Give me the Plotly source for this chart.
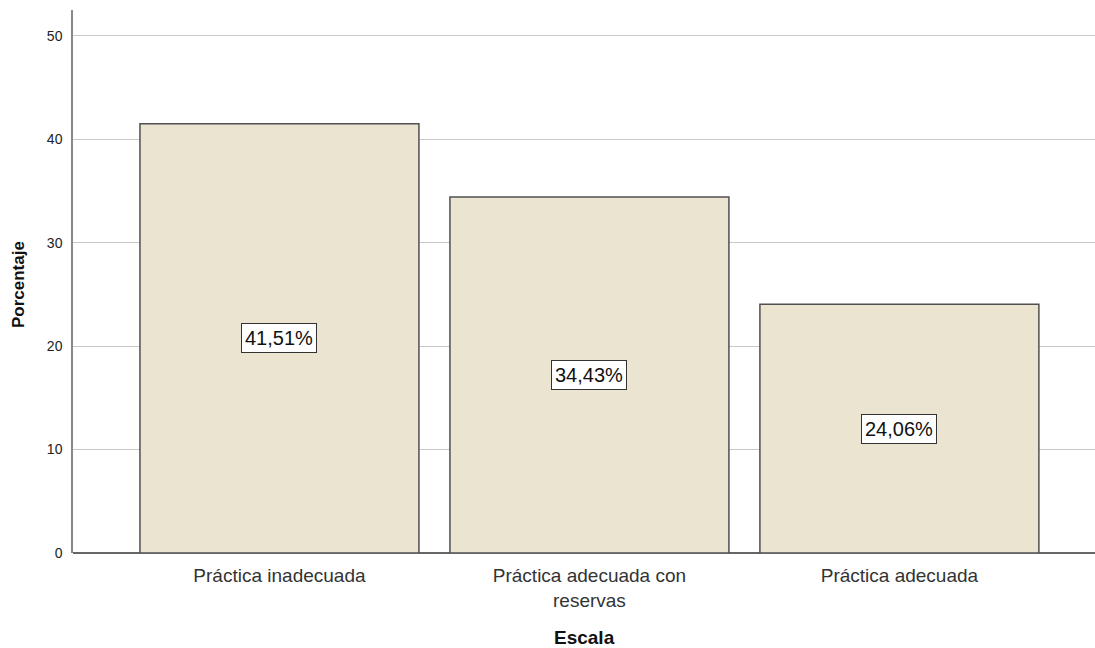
import plotly.graph_objects as go

categories = ["Práctica inadecuada", "Práctica adecuada con<br>reservas", "Práctica adecuada"]
values = [41.51, 34.43, 24.06]
labels = ["41,51%", "34,43%", "24,06%"]
y_ticks = [0, 10, 20, 30, 40, 50]

x_pos = list(range(len(categories)))
FONT = "Liberation Sans, Arial"

fig = go.Figure()
fig.add_trace(go.Bar(
    x=x_pos, y=values, width=0.9,
    marker=dict(color="#EAE4D0", line=dict(color="#505050", width=1.5)),
    hoverinfo="skip",
))

for xi, v, t in zip(x_pos, values, labels):
    fig.add_annotation(
        x=xi, y=v / 2, text=t, showarrow=False,
        font=dict(family=FONT, size=20, color="#111"),
        bgcolor="white", bordercolor="#333", borderwidth=1, borderpad=3,
    )

fig.add_annotation(
    x=0.5, xref="paper", y=-0.155, yref="paper", yanchor="middle",
    text="<b>Escala</b>", showarrow=False,
    font=dict(family=FONT, size=19, color="#111"),
)
fig.add_annotation(
    x=-0.054, xref="paper", y=0.495, yref="paper", xanchor="center",
    text="<b>Porcentaje</b>", textangle=-90, showarrow=False,
    font=dict(family=FONT, size=17, color="#111"),
)

fig.update_layout(
    width=1095, height=648,
    margin=dict(l=73, r=0, t=10, b=95),
    paper_bgcolor="white", plot_bgcolor="white",
    showlegend=False,
    xaxis=dict(
        range=[-0.666, 2.631],
        tickvals=x_pos, ticktext=categories,
        tickfont=dict(family=FONT, size=19, color="#333"),
        showgrid=False, zeroline=False,
        showline=False, ticks="",
        ticklabelstandoff=9,
    ),
    yaxis=dict(
        range=[0, 52.5],
        tickvals=y_ticks,
        tickfont=dict(family=FONT, size=14, color="#222"),
        showgrid=True, gridcolor="#c8c8c8", gridwidth=1.2,
        zeroline=True, zerolinecolor="#666", zerolinewidth=1.5,
        showline=True, linecolor="#888", linewidth=1.5,
        ticks="", ticklen=0,
        ticklabelstandoff=6,
    ),
)

fig.write_html("out.html")
